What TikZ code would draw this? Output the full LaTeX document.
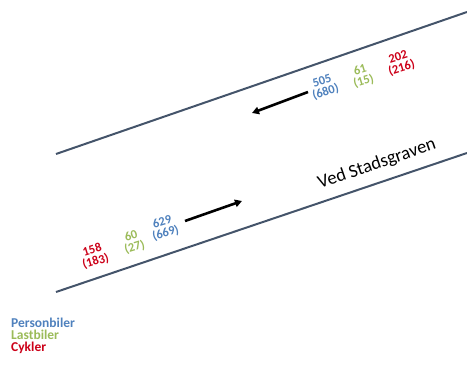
\documentclass[tikz,border=0pt]{standalone}
\usepackage{fontspec}
\setmainfont{Carlito}
\usepackage{tikz}
\usetikzlibrary{arrows.meta,calc,positioning}
\definecolor{pbil}{RGB}{79,129,189}
\definecolor{lbil}{RGB}{155,187,89}
\definecolor{cyk}{RGB}{204,0,24}
\definecolor{kant}{RGB}{68,84,106}

\begin{document}
\begin{tikzpicture}[x=1pt,y=1pt,
    count/.style={font=\fontsize{12.5}{12}\selectfont\bfseries,align=center,rotate=17,inner sep=0pt},
    legend/.style={font=\fontsize{13.5}{13}\selectfont\bfseries,anchor=west,inner sep=0pt},
    edge/.style={draw=kant,line width=2pt},
    flow/.style={line width=2.6pt,-{Triangle[length=7pt,width=7.5pt]}}]
\useasboundingbox (0,0) rectangle (467,370);
% vejkanter
\coordinate (T1) at (56,216);
\coordinate (T2) at (467,358);
\coordinate (B1) at (56,78);
\coordinate (B2) at (467,217);
\path[edge] (T1) -- (T2);
\path[edge] (B1) -- (B2);
\node[font=\fontsize{18.5}{18}\selectfont,rotate=19] (name) at (377,206) {Ved Stadsgraven};
% mod vest
\node[count,text=pbil] (pv) at (324,283) {505\\(680)};
\node[count,text=lbil] (lv) at (362,294) {61\\(15)};
\node[count,text=cyk] (cv) at (400,307) {202\\(216)};
\coordinate (w1) at (308,278);
\coordinate (w2) at (252,257);
\draw[flow] (w1) -- (w2);
% mod oest
\node[count,text=cyk] (co) at (94,114) {158\\(183)};
\node[count,text=lbil] (lo) at (133,128) {60\\(27)};
\node[count,text=pbil] (po) at (164,142) {629\\(669)};
\coordinate (e1) at (185,149);
\coordinate (e2) at (242,169);
\draw[flow] (e1) -- (e2);
% forklaring
\node[legend,text=pbil] (lp) at (11,47) {Personbiler};
\node[legend,text=lbil] (ll) at (11,35) {Lastbiler};
\node[legend,text=cyk] (lc) at (11,22) {Cykler};
\end{tikzpicture}
\end{document}
